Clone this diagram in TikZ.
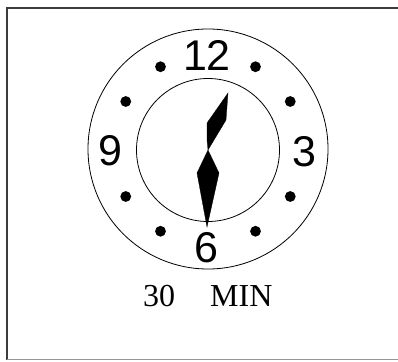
\documentclass[tikz,border=0pt]{standalone}
\usepackage{fontspec}
\setmainfont{Liberation Serif}
\newfontfamily\dialfont{Liberation Sans}
\usepackage{tikz}
\usetikzlibrary{positioning}
\definecolor{framegrey}{RGB}{60, 60, 60}
\definecolor{edgegrey}{RGB}{150, 150, 150}

\begin{document}
\begin{tikzpicture}[x=1pt, y=1pt,
    dialnum/.style={inner sep=0pt, font=\dialfont\fontsize{43}{43}\selectfont},
    hourdot/.style={fill=black, draw=none},
    hand/.style={fill=black, draw=black, line width=0.3pt, line join=miter}]
        \useasboundingbox (-208, -212) rectangle (190, 149);
        % Frame (right side runs off the page)
        \draw[line width=1.4pt, color=framegrey] (200, 141) -- (-201, 141) -- (-201, -210.5);
        \draw[line width=1.2pt, color=edgegrey] (-201, -210.5) -- (200, -210.5);

        % Dial rings
        \draw[line width=0.8pt] (0, 0) circle (120);
        \draw[line width=0.8pt] (0, -1) circle (71.5);

        % Hour dots (skip the four numerals)
        \foreach \a in {30, 60, 120, 150, 210, 240, 300, 330}
            \fill[hourdot] (\a:95) circle (5.4);

        % Numerals
        \node[dialnum] (n12) at (-1, 94) {12};
        \node[dialnum] (n3) at (96, -3) {3};
        \node[dialnum] (n6) at (-2, -99) {6};
        \node[dialnum] (n9) at (-98, -2) {9};

        % Hour hand
        \filldraw[hand] (20, 56) -- (18, 29) -- (0, -1) -- (-1, 9) -- (-1, 26) -- cycle;
        % Minute hand
        \filldraw[hand] (0, -1) -- (11, -24) -- (-1, -78) -- (-11, -24) -- cycle;

        % Caption
        \node[inner sep=0pt, anchor=base west, font=\fontsize{32}{32}\selectfont] (mins) at (-65, -157) {30};
        \node[inner sep=0pt, anchor=base west, font=\fontsize{32}{32}\selectfont] (unit) at (2, -157) {MIN};
    \end{tikzpicture}
\end{document}
